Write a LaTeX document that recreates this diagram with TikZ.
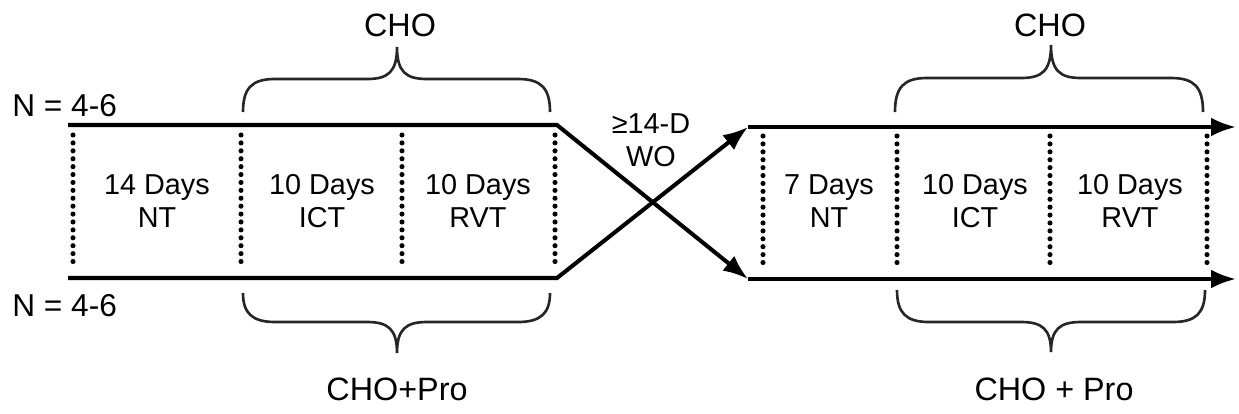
\documentclass[tikz,border=0pt]{standalone}
\usepackage{fontspec}
\setmainfont{Liberation Sans}
\usetikzlibrary{arrows.meta}
\tikzset{
  mainline/.style={line width=2.3pt, black, line join=miter},
  arrowline/.style={mainline, -{Latex[length=0.5cm,width=0.38cm]}},
  dotline/.style={line width=2.9pt, line cap=round, dash pattern=on 0pt off 4.5pt, black},
  bracestyle/.style={line width=1.5pt, black!85},
  daytext/.style={inner sep=0pt, align=center, font=\fontsize{16.4}{18.8}\selectfont},
  grouptext/.style={inner sep=0pt, font=\fontsize{18.4}{21}\selectfont},
  ntext/.style={inner sep=0pt, anchor=west, font=\fontsize{18}{20}\selectfont},
}
\begin{document}
\begin{tikzpicture}[x=0.02cm, y=-0.02cm]
\useasboundingbox (0,0) rectangle (1239,413);
% coordinates of the lines
\coordinate (L1s) at (68,125);
\coordinate (L1e) at (557,125);
\coordinate (L2s) at (68,278);
\coordinate (L2e) at (557,278);
\coordinate (R1s) at (748,127);
\coordinate (R1e) at (1236,127);
\coordinate (R2s) at (748,279);
\coordinate (R2e) at (1236,279);
% group lines with crossover
\draw[arrowline] (L1s) -- (L1e) -- (R2s);
\draw[arrowline] (L2s) -- (L2e) -- (R1s);
\draw[arrowline] (R1s) -- (R1e);
\draw[arrowline] (R2s) -- (R2e);
% dotted separators
\foreach \x in {73,241,402,555} {
  \draw[dotline] (\x,135) -- (\x,268);
}
\foreach \x in {763,897,1050,1207} {
  \draw[dotline] (\x,136) -- (\x,270);
}
% period labels
\node[daytext] (p1) at (157,201) {14 Days\\NT};
\node[daytext] (p2) at (322,201) {10 Days\\ICT};
\node[daytext] (p3) at (478,201) {10 Days\\RVT};
\node[daytext] (q1) at (829,201) {7 Days\\NT};
\node[daytext] (q2) at (975,201) {10 Days\\ICT};
\node[daytext] (q3) at (1130,201) {10 Days\\RVT};
\node[daytext, align=center] (wo) at (651,140) {≥14-D\\WO};
% N labels
\node[ntext] (n1) at (12,106) {N = 4-6};
\node[ntext] (n2) at (12,306) {N = 4-6};
% braces
\draw[bracestyle] (243,112) .. controls (243,88) and (252,79) .. (275,79) -- (367,79)
  .. controls (388,79) and (397,72) .. (397,47)
  .. controls (397,72) and (406,79) .. (427,79) -- (518,79)
  .. controls (541,79) and (550,88) .. (550,112);
\draw[bracestyle] (243,293) .. controls (243,313) and (252,322) .. (275,322) -- (367,322)
  .. controls (388,322) and (397,329) .. (397,353)
  .. controls (397,329) and (406,322) .. (427,322) -- (518,322)
  .. controls (541,322) and (550,313) .. (550,293);
\draw[bracestyle] (895,112) .. controls (895,87) and (904,78) .. (927,78) -- (1021,78)
  .. controls (1042,78) and (1051,71) .. (1051,45)
  .. controls (1051,71) and (1060,78) .. (1081,78) -- (1171,78)
  .. controls (1194,78) and (1203,87) .. (1203,112);
\draw[bracestyle] (897,290) .. controls (897,313) and (906,322) .. (929,322) -- (1021,322)
  .. controls (1042,322) and (1051,329) .. (1051,352)
  .. controls (1051,329) and (1060,322) .. (1081,322) -- (1173,322)
  .. controls (1196,322) and (1205,313) .. (1205,290);
% group labels
\node[grouptext] (c1) at (400,25) {CHO};
\node[grouptext] (c2) at (397,389) {CHO+Pro};
\node[grouptext] (c3) at (1050,25) {CHO};
\node[grouptext] (c4) at (1054,389) {CHO + Pro};
\end{tikzpicture}
\end{document}
